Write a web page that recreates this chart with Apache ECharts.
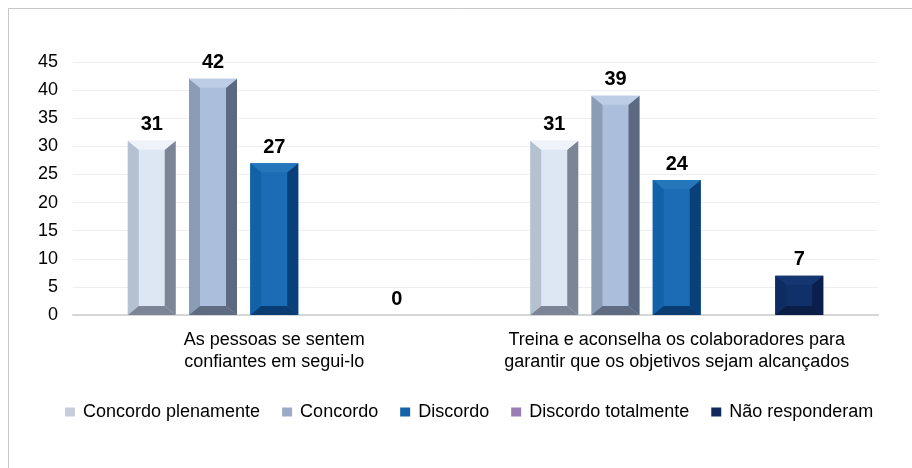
<!DOCTYPE html>
<html>
<head>
<meta charset="utf-8">
<script src="https://cdn.jsdelivr.net/npm/echarts@6/dist/echarts.min.js"></script>
<style>
  html, body { margin: 0; padding: 0; background: #ffffff; }
  #chart { width: 912px; height: 468px; }
</style>
</head>
<body>
<div id="chart"></div>
<script>
// ---- data ----
const categories = [
  'As pessoas se sentem\nconfiantes em segui-lo',
  'Treina e aconselha os colaboradores para\ngarantir que os objetivos sejam alcançados'
];
const seriesNames = ['Concordo plenamente', 'Concordo', 'Discordo', 'Discordo totalmente', 'Não responderam'];
const concordoPlenamente = [31, 31];
const concordo = [42, 39];
const discordo = [27, 24];
const discordoTotalmente = [null, null];
const naoResponderam = [0, 7];
const yTicks = [0, 5, 10, 15, 20, 25, 30, 35, 40, 45];

// ---- styles ----
const FONT = 'Liberation Sans, Arial, sans-serif';
const BAR_W = 48;
const PITCH = 61.25;
const BX = 11, BY = 9;
// face, left, right, top, bottom
const palettes = [
  { face: '#dde7f3', left: '#b5c0d0', right: '#7b8595', top: '#eef3fa', bottom: '#7c8595' },
  { face: '#abbfdc', left: '#8b9cb7', right: '#5b6981', top: '#bccde5', bottom: '#5e6b81' },
  { face: '#1b6cb4', left: '#1262aa', right: '#0a4079', top: '#2676bc', bottom: '#093c70' },
  { face: '#9c7eb7', left: '#8a6ca6', right: '#6f5389', top: '#ab90c3', bottom: '#6f5389' },
  { face: '#10306a', left: '#0f2c62', right: '#0a1f4b', top: '#153670', bottom: '#0a1e48' }
];
const legendColors = ['#c6cedb', '#9aabc7', '#1662aa', '#9b7db6', '#12295b'];
const seriesData = [concordoPlenamente, concordo, discordo, discordoTotalmente, naoResponderam];

function renderItem(params, api) {
  const v = api.value(1);
  if (v == null || isNaN(v)) return null;
  const si = params.seriesIndex;
  const p = palettes[si];
  const base = api.coord([api.value(0), 0]);
  const topPt = api.coord([api.value(0), v]);
  const cx = base[0] + (si - 2) * PITCH;
  const x0 = cx - BAR_W / 2, x1 = cx + BAR_W / 2;
  const y0 = topPt[1], y1 = base[1];
  const h = y1 - y0;
  const children = [];
  if (h > 0.5) {
    const by = Math.min(BY, h / 2);
    const bx = BX;
    children.push(
      { type: 'rect', shape: { x: x0, y: y0, width: BAR_W, height: h }, style: { fill: p.face } },
      { type: 'polygon', shape: { points: [[x0, y0], [x0 + bx, y0 + by], [x0 + bx, y1 - by], [x0, y1]] }, style: { fill: p.left } },
      { type: 'polygon', shape: { points: [[x1, y0], [x1 - bx, y0 + by], [x1 - bx, y1 - by], [x1, y1]] }, style: { fill: p.right } },
      { type: 'polygon', shape: { points: [[x0, y0], [x1, y0], [x1 - bx, y0 + by], [x0 + bx, y0 + by]] }, style: { fill: p.top } },
      { type: 'polygon', shape: { points: [[x0, y1], [x1, y1], [x1 - bx, y1 - by], [x0 + bx, y1 - by]] }, style: { fill: p.bottom } }
    );
  }
  children.push({
    type: 'text',
    style: {
      text: String(v), x: cx, y: y0 - 6,
      align: 'center', verticalAlign: 'bottom',
      fill: '#000000', font: 'bold 20px ' + FONT
    }
  });
  return { type: 'group', children: children };
}

const chart = echarts.init(document.getElementById('chart'), null, { renderer: 'canvas' });

const series = seriesNames.map((name, i) => ({
  name: name,
  type: 'custom',
  renderItem: renderItem,
  data: seriesData[i].map((v, ci) => [ci, v]),
  encode: { x: 0, y: 1 },
  itemStyle: { color: legendColors[i] },
  emphasis: { disabled: true },
  silent: true
}));

chart.setOption({
  animation: false,
  backgroundColor: '#ffffff',
  graphic: [{
    type: 'rect',
    shape: { x: 8.5, y: 8.5, width: 920, height: 480 },
    style: { fill: 'none', stroke: '#c6c6c6', lineWidth: 1 },
    silent: true,
    z: -1
  }],
  grid: { left: 73, right: 34, top: 62, bottom: 153, containLabel: false },
  legend: {
    data: seriesNames.map((n, i) => ({ name: n, itemStyle: { color: legendColors[i] } })),
    left: 65,
    top: 403,
    padding: 0,
    icon: 'rect',
    itemWidth: 10,
    itemHeight: 9,
    itemGap: 22,
    textStyle: {
      fontFamily: FONT,
      fontSize: 18,
      color: '#000000',
      padding: [0, 0, 0, 3]
    }
  },
  xAxis: {
    type: 'category',
    data: categories,
    axisLine: { show: true, lineStyle: { color: '#d6d6d6', width: 2 } },
    axisTick: { show: false },
    axisLabel: {
      interval: 0,
      hideOverlap: false,
      color: '#000000',
      fontFamily: FONT,
      fontSize: 18,
      lineHeight: 22,
      margin: 14
    }
  },
  yAxis: {
    type: 'value',
    min: yTicks[0],
    max: yTicks[yTicks.length - 1],
    interval: 5,
    axisLine: { show: false },
    axisTick: { show: false },
    splitLine: { lineStyle: { color: '#eeeeee', width: 1 } },
    axisLabel: {
      color: '#000000',
      fontFamily: FONT,
      fontSize: 18,
      margin: 15
    }
  },
  series: series
});
</script>
</body>
</html>
